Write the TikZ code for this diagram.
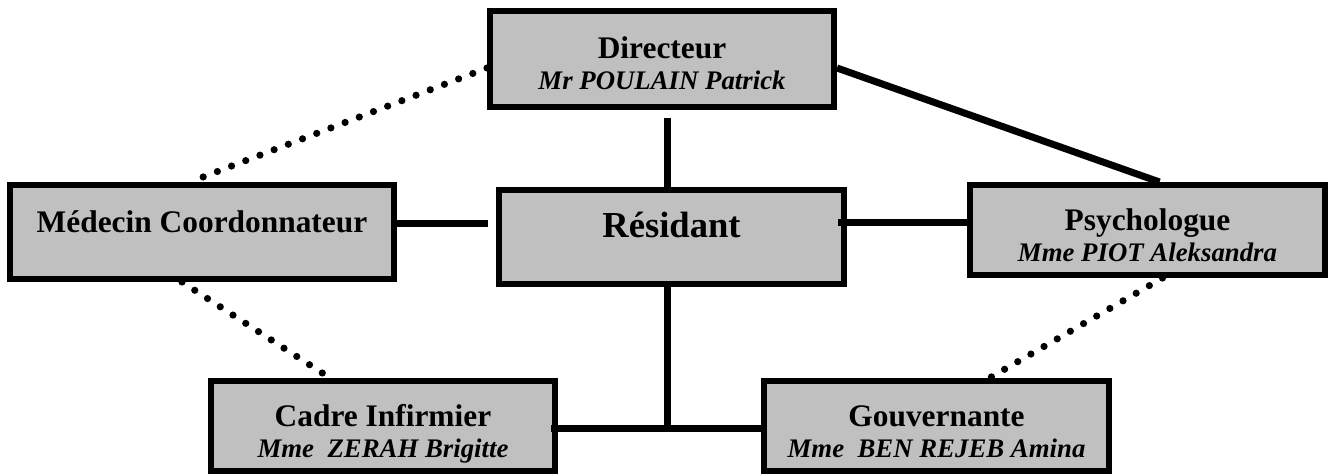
\documentclass[tikz,border=0pt]{standalone}
\usepackage{fontspec}
\setmainfont{Liberation Serif}
\usepackage{tikz}
\usetikzlibrary{calc}

\definecolor{boxgray}{RGB}{192,192,192}

\begin{document}
\begin{tikzpicture}[x=0.5pt,y=-0.5pt]
		\tikzstyle{every path}=[line width=3pt]
		
		\tikzstyle{post}=[draw,fill=boxgray,align=center,inner sep=0pt,
		font=\fontsize{15.7}{15.5}\selectfont\bfseries]
		\tikzstyle{link}=[line width=3.5pt]
		\tikzstyle{dotlink}=[line width=3.6pt,line cap=round,dash pattern=on 0pt off 7.6pt]
		\newcommand{\up}{\rule{0pt}{15.5pt}}
		\newcommand{\who}[1]{\raisebox{0pt}[\height][0pt]{\fontsize{13.4}{15.5}\selectfont\itshape #1}}
		
		\useasboundingbox (0,0) rectangle (1333,476);
		
		%% Draw the boxes
		\node [post,minimum width=172pt,minimum height=48pt] (dir) at (662,59)
		{\up Directeur\\\who{Mr POULAIN Patrick}};
		\node [post,minimum width=192pt,minimum height=47pt] (med) at (202,232)
		{\up Médecin Coordonnateur\\\mbox{}};
		\node [post,minimum width=172.5pt,minimum height=47pt,
		font=\fontsize{18.3}{15.5}\selectfont\bfseries] (res) at (671.5,237)
		{\up Résidant\\\mbox{}};
		\node [post,minimum width=177.5pt,minimum height=45pt] (psy) at (1147.5,230)
		{\up Psychologue\\\who{Mme PIOT Aleksandra}};
		\node [post,minimum width=172pt,minimum height=45pt] (cad) at (383,426)
		{\up Cadre Infirmier\\\who{Mme\ \ ZERAH Brigitte}};
		\node [post,minimum width=172.5pt,minimum height=45pt] (gou) at (936.5,426)
		{\up Gouvernante\\\who{Mme\ \ BEN REJEB Amina}};
		
		%% Solid links
		\draw [link] ($(dir.south)+(5,8)$) -- ($(res.north)+(-4.5,0)$);
		\draw [link] ($(dir.east)+(0,9)$) -- ($(psy.north)+(12,0)$);
		\draw [link] ($(med.east)+(0,-9)$) -- ($(res.west)+(-8,-14)$);
		\draw [link] ($(res.east)+(-9,-15)$) -- ($(psy.west)+(0,-8)$);
		\draw [link] ($(res.south)+(-4.5,0)$) -- ($(res.south)+(-4.5,144)$) coordinate (junc);
		\draw [link] ($(cad.east)+(-7,2)$) -- ($(gou.west)+(0,2)$);
		
		%% Dotted links
		\draw [dotlink] ($(dir.west)+(0,9)$) -- ($(med.north)+(-12,0)$);
		\draw [dotlink] ($(med.south)+(-20,0)$) -- ($(cad.north)+(-53,0)$);
		\draw [dotlink] ($(psy.south)+(15,0)$) -- ($(gou.north)+(53,0)$);
		
\end{tikzpicture}
\end{document}
